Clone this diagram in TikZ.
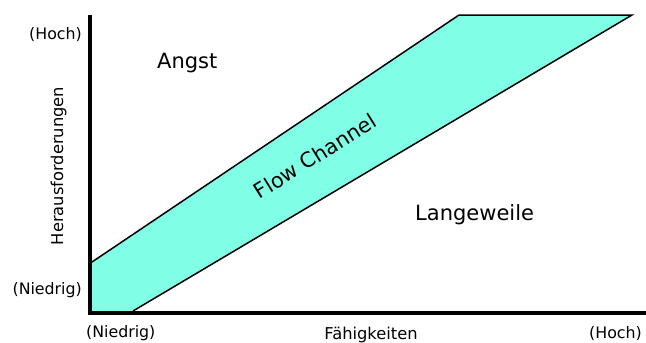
\documentclass[tikz,border=0pt]{standalone}
\usepackage{fontspec}
\setmainfont{DejaVu Sans}
\definecolor{flowcol}{RGB}{128,255,230}
\begin{document}
\begin{tikzpicture}[x=1pt,y=-1pt,
  lbl/.style={inner sep=0pt,font=\fontsize{15.8}{18}\selectfont},
  ttl/.style={inner sep=0pt,font=\fontsize{16.3}{19}\selectfont},
  big/.style={inner sep=0pt,font=\fontsize{21}{25}\selectfont},
  axisline/.style={line width=4pt},
  bandline/.style={line width=1.5pt}]
\useasboundingbox (0,0) rectangle (646,343);
% band
\coordinate (ul) at (92,262);
\coordinate (ut) at (459,15);
\coordinate (rt) at (632,15);
\coordinate (lb) at (133,311);
\coordinate (ob) at (92,311);
\fill[flowcol] (ul) -- (ut) -- (rt) -- (lb) -- (ob) -- cycle;
\draw[bandline] (ul) -- (ut) -- (rt) -- (lb);
% axes
\coordinate (ytop) at (90,15);
\coordinate (origin) at (90,313);
\coordinate (xend) at (646,313);
\draw[axisline] (ytop) -- (90,315);
\draw[axisline] (88,313) -- (xend);
% labels
\node[lbl,anchor=base east] (hochy) at (82,39) {(Hoch)};
\node[lbl,anchor=base east] (niedy) at (82,294) {(Niedrig)};
\node[lbl,anchor=base west] (niedx) at (86,337) {(Niedrig)};
\node[lbl,anchor=base east] (hochx) at (642,338) {(Hoch)};
\node[ttl,anchor=base] (xlab) at (371,339) {Fähigkeiten};
\node[ttl,anchor=base,rotate=90] (ylab) at (63,166) {Herausforderungen};
\node[big,anchor=base west] (angst) at (157,68) {Angst};
\node[big,anchor=base west] (lang) at (415,220) {Langeweile};
\node[inner sep=0pt,font=\fontsize{20.8}{24}\selectfont,rotate=32] (flow) at (315,156) {Flow Channel};
\end{tikzpicture}
\end{document}
